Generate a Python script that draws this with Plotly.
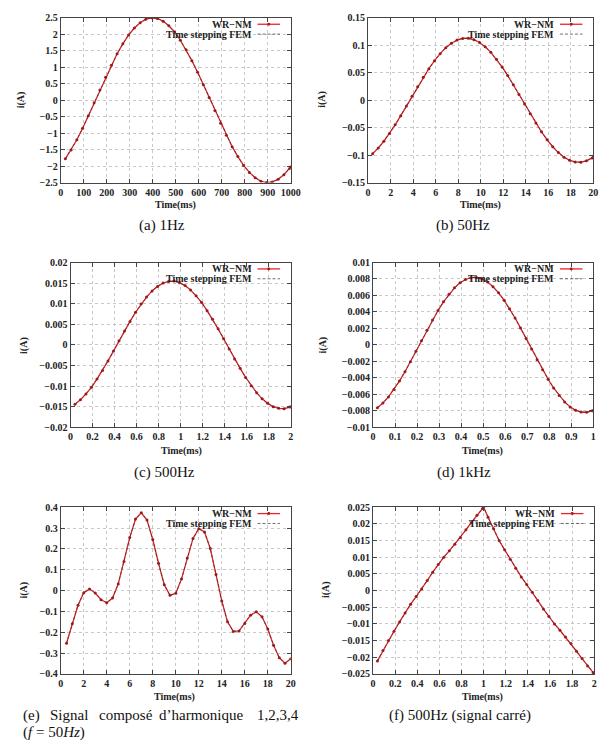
import plotly.graph_objects as go

# ---------------- data ----------------
a_t = [20, 45, 70, 95, 120, 145, 170, 195, 220, 245, 270, 295, 320, 345, 370, 395, 420, 445, 470, 495,
       520, 545, 570, 595, 620, 645, 670, 695, 720, 745, 770, 795, 820, 845, 870, 895, 920, 945, 970, 995, 1000]
a_i = [-1.78, -1.51, -1.20, -0.85, -0.47, -0.08, 0.31, 0.70, 1.06, 1.41, 1.71, 1.98, 2.19, 2.35, 2.46, 2.50,
       2.48, 2.40, 2.26, 2.07, 1.82, 1.53, 1.20, 0.85, 0.47, 0.08, -0.31, -0.70, -1.06, -1.41, -1.71, -1.98,
       -2.19, -2.35, -2.46, -2.50, -2.48, -2.40, -2.26, -2.07, -2.02]

b_t = [0.4, 0.9, 1.4, 1.9, 2.4, 2.9, 3.4, 3.9, 4.4, 4.9, 5.4, 5.9, 6.4, 6.9, 7.4, 7.9, 8.4, 8.9, 9.4, 9.9,
       10.4, 10.9, 11.4, 11.9, 12.4, 12.9, 13.4, 13.9, 14.4, 14.9, 15.4, 15.9, 16.4, 16.9, 17.4, 17.9, 18.4,
       18.9, 19.4, 19.9, 20.0]
b_i = [-0.0973, -0.0871, -0.0747, -0.0605, -0.0449, -0.0281, -0.0106, 0.0071, 0.0246, 0.0416, 0.0575, 0.0720,
       0.0848, 0.0954, 0.1037, 0.1095, 0.1125, 0.1128, 0.1103, 0.1051, 0.0973, 0.0871, 0.0747, 0.0605, 0.0449,
       0.0281, 0.0106, -0.0071, -0.0246, -0.0416, -0.0575, -0.0720, -0.0848, -0.0954, -0.1037, -0.1095,
       -0.1125, -0.1128, -0.1103, -0.1051, -0.1040]

c_t = [0.04, 0.09, 0.14, 0.19, 0.24, 0.29, 0.34, 0.39, 0.44, 0.49, 0.54, 0.59, 0.64, 0.69, 0.74, 0.79, 0.84,
       0.89, 0.94, 0.99, 1.04, 1.09, 1.14, 1.19, 1.24, 1.29, 1.34, 1.39, 1.44, 1.49, 1.54, 1.59, 1.64, 1.69,
       1.74, 1.79, 1.84, 1.89, 1.94, 1.99, 2.0]
c_i = [-0.0144, -0.0133, -0.0119, -0.0103, -0.0083, -0.0062, -0.0039, -0.0015, 0.0010, 0.0034, 0.0057, 0.0079,
       0.0099, 0.0116, 0.0131, 0.0142, 0.0150, 0.0154, 0.0155, 0.0151, 0.0144, 0.0133, 0.0119, 0.0103, 0.0083,
       0.0062, 0.0039, 0.0015, -0.0010, -0.0034, -0.0057, -0.0079, -0.0099, -0.0116, -0.0131, -0.0142,
       -0.0150, -0.0154, -0.0155, -0.0151, -0.0150]

d_t = [0.02, 0.045, 0.07, 0.095, 0.12, 0.145, 0.17, 0.195, 0.22, 0.245, 0.27, 0.295, 0.32, 0.345, 0.37, 0.395,
       0.42, 0.445, 0.47, 0.495, 0.52, 0.545, 0.57, 0.595, 0.62, 0.645, 0.67, 0.695, 0.72, 0.745, 0.77, 0.795,
       0.82, 0.845, 0.87, 0.895, 0.92, 0.945, 0.97, 0.995, 1.0]
d_i = [-0.00762, -0.00706, -0.00632, -0.00542, -0.00439, -0.00326, -0.00204, -0.00077, 0.00051, 0.00179,
       0.00302, 0.00417, 0.00523, 0.00615, 0.00692, 0.00753, 0.00794, 0.00816, 0.00818, 0.00800, 0.00762,
       0.00706, 0.00632, 0.00542, 0.00439, 0.00326, 0.00204, 0.00077, -0.00051, -0.00179, -0.00302, -0.00417,
       -0.00523, -0.00615, -0.00692, -0.00753, -0.00794, -0.00816, -0.00818, -0.00800, -0.00800]

e_t = [0.5, 1.0, 1.5, 2.0, 2.5, 3.0, 3.5, 4.0, 4.5, 5.0, 5.5, 6.0, 6.5, 7.0, 7.5, 8.0, 8.5, 9.0, 9.5, 10.0,
       10.5, 11.0, 11.5, 12.0, 12.5, 13.0, 13.5, 14.0, 14.5, 15.0, 15.5, 16.0, 16.5, 17.0, 17.5, 18.0, 18.5,
       19.0, 19.5, 20.0]
e_i = [-0.253, -0.159, -0.071, -0.010, 0.007, -0.012, -0.044, -0.059, -0.036, 0.032, 0.139, 0.254, 0.343,
       0.373, 0.338, 0.245, 0.131, 0.028, -0.023, -0.013, 0.056, 0.156, 0.250, 0.297, 0.281, 0.202, 0.077,
       -0.050, -0.150, -0.196, -0.194, -0.158, -0.118, -0.102, -0.126, -0.185, -0.262, -0.322, -0.349, -0.327]

f_t = [0.04, 0.09, 0.14, 0.19, 0.24, 0.29, 0.34, 0.39, 0.44, 0.49, 0.54, 0.59, 0.64, 0.69, 0.74, 0.79, 0.84,
       0.89, 0.94, 0.99, 1.0, 1.04, 1.09, 1.14, 1.19, 1.24, 1.29, 1.34, 1.39, 1.44, 1.49, 1.54, 1.59, 1.64,
       1.69, 1.74, 1.79, 1.84, 1.89, 1.94, 1.99, 2.0]
f_i = [-0.0211, -0.0180, -0.0150, -0.0122, -0.0094, -0.0067, -0.0041, -0.0018, 0.0005, 0.0030, 0.0055,
       0.0078, 0.0100, 0.0119, 0.0139, 0.0159, 0.0182, 0.0204, 0.0226, 0.0246, 0.0250, 0.0220, 0.0185,
       0.0150, 0.0122, 0.0094, 0.0067, 0.0041, 0.0018, -0.0005, -0.0030, -0.0055, -0.0078, -0.0100, -0.0119,
       -0.0139, -0.0159, -0.0182, -0.0204, -0.0226, -0.0246, -0.0250]

# tick values
a_xt = [0, 100, 200, 300, 400, 500, 600, 700, 800, 900, 1000]
a_yt = [-2.5, -2, -1.5, -1, -0.5, 0, 0.5, 1, 1.5, 2, 2.5]
b_xt = [0, 2, 4, 6, 8, 10, 12, 14, 16, 18, 20]
b_yt = [-0.15, -0.1, -0.05, 0, 0.05, 0.1, 0.15]
c_xt = [0, 0.2, 0.4, 0.6, 0.8, 1, 1.2, 1.4, 1.6, 1.8, 2]
c_yt = [-0.02, -0.015, -0.01, -0.005, 0, 0.005, 0.01, 0.015, 0.02]
d_xt = [0, 0.1, 0.2, 0.3, 0.4, 0.5, 0.6, 0.7, 0.8, 0.9, 1]
d_yt = [-0.01, -0.008, -0.006, -0.004, -0.002, 0, 0.002, 0.004, 0.006, 0.008, 0.01]
e_xt = [0, 2, 4, 6, 8, 10, 12, 14, 16, 18, 20]
e_yt = [-0.4, -0.3, -0.2, -0.1, 0, 0.1, 0.2, 0.3, 0.4]
f_xt = [0, 0.2, 0.4, 0.6, 0.8, 1, 1.2, 1.4, 1.6, 1.8, 2]
f_yt = [-0.025, -0.02, -0.015, -0.01, -0.005, 0, 0.005, 0.01, 0.015, 0.02, 0.025]

captions = ["(a) 1Hz", "(b) 50Hz", "(c) 500Hz", "(d) 1kHz", None, "(f) 500Hz (signal carré)"]
legend_names = ["WR\u2212NM", "Time stepping FEM"]

# ---------------- layout geometry ----------------
W, H = 615, 746
panels = [
    (a_t, a_i, a_xt, a_yt, (59, 294, 13, 180)),
    (b_t, b_i, b_xt, b_yt, (373, 603, 13, 180)),
    (c_t, c_i, c_xt, c_yt, (69, 294, 261, 428)),
    (d_t, d_i, d_xt, d_yt, (378, 603, 261, 428)),
    (e_t, e_i, e_xt, e_yt, (59, 294, 509, 678)),
    (f_t, f_i, f_xt, f_yt, (378, 604, 509, 678)),
]
ytitle_pos = [(18, 96), (326, 96), (22, 345), (327, 345), (21, 593), (330, 593)]
xtitle_pos = [(176, 203), (488, 203), (182, 452), (490, 452), (175, 701), (490, 701)]
caption_pos = [(162, 223), (470, 223), (165, 474), (471, 474), None, (467, 720)]


def px(x):
    return x / W


def py(y):
    return 1 - y / H


def fmt(v):
    s = f"{round(v, 6):g}"
    return s.replace("-", "\u2212")


TICKFONT = dict(family="Liberation Serif", size=10, color="#222", weight="bold")
LBLFONT = dict(family="Liberation Serif", size=10, color="#222")
fig = go.Figure()
layout = dict(width=W, height=H, margin=dict(l=0, r=0, t=0, b=0),
              paper_bgcolor="white", plot_bgcolor="white", showlegend=False)
annotations = []
shapes = []


def ann(text, x, y, xanchor="center", yanchor="middle", font=LBLFONT, **kw):
    d = dict(text=text, x=x, y=y, xanchor=xanchor, yanchor=yanchor, showarrow=False, font=font)
    d.setdefault("xref", "paper")
    d.setdefault("yref", "paper")
    d.update(kw)
    annotations.append(d)


for k, (t, i, xt, yt, box) in enumerate(panels):
    n = k + 1
    xa = "x" if n == 1 else f"x{n}"
    ya = "y" if n == 1 else f"y{n}"
    x0, x1, yt0, yb0 = box
    fig.add_trace(go.Scatter(x=t, y=i, xaxis=xa, yaxis=ya, mode="lines+markers",
                             line=dict(color="#e8252a", width=1.3),
                             marker=dict(symbol="circle", size=3, color="#b01818"),
                             name=legend_names[0]))
    fig.add_trace(go.Scatter(x=t, y=i, xaxis=xa, yaxis=ya, mode="lines",
                             line=dict(color="#333", width=0.7, dash="3px,2px"),
                             name=legend_names[1]))
    axcommon = dict(showline=True, linecolor="#444", linewidth=1, mirror="allticks",
                    ticks="inside", ticklen=4, tickcolor="#444", tickwidth=1,
                    showgrid=True, gridcolor="#c8c8c8", gridwidth=0.6, griddash="dot",
                    zeroline=False, tickfont=TICKFONT)
    layout["xaxis" if n == 1 else f"xaxis{n}"] = dict(
        axcommon, domain=[px(x0), px(x1)], anchor=ya, range=[xt[0], xt[-1]],
        tickmode="array", tickvals=xt, ticktext=[fmt(v) for v in xt])
    layout["yaxis" if n == 1 else f"yaxis{n}"] = dict(
        axcommon, domain=[py(yb0), py(yt0)], anchor=xa, range=[yt[0], yt[-1]],
        tickmode="array", tickvals=yt, ticktext=[fmt(v) for v in yt])

    ax_, ay_ = ytitle_pos[k]
    ann("<b>i(A)</b>", px(ax_), py(ay_), textangle=-90)
    bx_, by_ = xtitle_pos[k]
    ann("<b>Time(ms)</b>", px(bx_), py(by_))
    if captions[k] is not None:
        cx, cy = caption_pos[k]
        ann(captions[k], px(cx), py(cy), font=dict(family="Liberation Serif", size=15, color="#111"))

    # legend (gnuplot style: text right-aligned, sample to the right)
    xd = f"{xa} domain"
    yd = f"{ya} domain"
    wpx = x1 - x0
    hpx = yb0 - yt0
    txt_r = (x1 - 38 - x0) / wpx
    s0 = (x1 - 34 - x0) / wpx
    s1 = (x1 - 11 - x0) / wpx
    l1 = 1 - 6.5 / hpx
    l2 = 1 - 16.5 / hpx
    for name, yy in zip(legend_names, (l1, l2)):
        ann(f"<b>{name}</b>", txt_r, yy, xanchor="right", xref=xd, yref=yd)
    shapes.append(dict(type="line", xref=xd, yref=yd, x0=s0, x1=s1, y0=l1, y1=l1,
                       line=dict(color="#e8252a", width=1.3)))
    cxm = (s0 + s1) / 2
    shapes.append(dict(type="circle", xref=xd, yref=yd, x0=cxm - 1.5 / wpx, x1=cxm + 1.5 / wpx,
                       y0=l1 - 1.5 / hpx, y1=l1 + 1.5 / hpx, fillcolor="#b01818", line=dict(width=0)))
    shapes.append(dict(type="line", xref=xd, yref=yd, x0=s0, x1=s1, y0=l2, y1=l2,
                       line=dict(color="#333", width=0.7, dash="3px,2px")))

# caption (e): justified first line, second line with italics
cap_font = dict(family="Liberation Serif", size=15, color="#111")
e_words = [("(e)", 18, "left"), ("Signal", 46, "left"), ("composé", 96, "left"),
           ("d\u2019harmonique", 157, "left"), ("1,2,3,4", 304, "right")]
for w, xx, anc in e_words:
    ann(w, px(xx), py(720), xanchor=anc, font=cap_font)
ann("(<i>f</i> = 50<i>Hz</i>)", px(18), py(737), xanchor="left", font=cap_font)

layout["annotations"] = annotations
layout["shapes"] = shapes
fig.update_layout(**layout)
fig.write_html("out.html")
